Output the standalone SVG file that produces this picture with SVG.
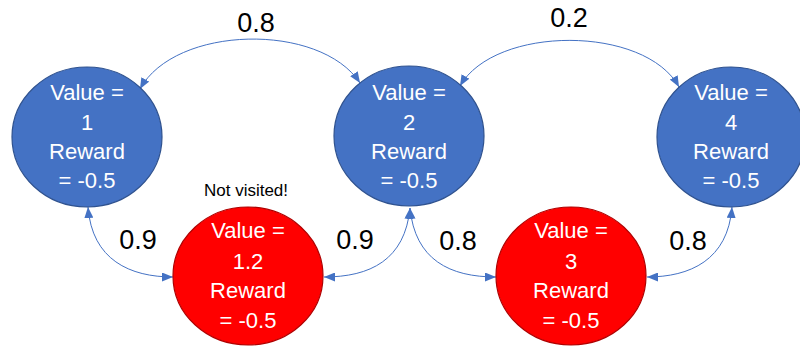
<svg xmlns="http://www.w3.org/2000/svg" width="800" height="347" viewBox="0 0 800 347">
  <style>
    .blue { fill: #4472C4; stroke: #2F528F; stroke-width: 1.2; }
    .red { fill: #FF0000; stroke: #B00000; stroke-width: 1.2; }
    .nt { font-family: "Liberation Sans", Arial, sans-serif; font-size: 22px; fill: #FFFFFF; text-anchor: middle; }
    .lbl { font-family: "Liberation Sans", Arial, sans-serif; font-size: 27px; fill: #000000; text-anchor: middle; }
    .note { font-family: "Liberation Sans", Arial, sans-serif; font-size: 17px; fill: #000000; text-anchor: middle; }
    .edge { fill: none; stroke: #4472C4; stroke-width: 1; marker-start: url(#arr); marker-end: url(#arr); }
  </style>
  <defs>
    <marker id="arr" markerUnits="userSpaceOnUse" markerWidth="11" markerHeight="9" refX="11" refY="4.5" orient="auto-start-reverse">
      <path d="M0,0 L11,4.5 L0,9 z" fill="#4472C4"/>
    </marker>
  </defs>

  <!-- transitions -->
  <g id="connectors">
    <path class="edge" d="M140,89 C175,25 320,22 360,83"/>
    <path class="edge" d="M460,86 C495,25 645,25 679,87"/>
    <path class="edge" d="M88,207 C92,260 130,277 173,277"/>
    <path class="edge" d="M410,208 C405,260 370,277 324,277"/>
    <path class="edge" d="M410,208 C415,260 450,277 496,277"/>
    <path class="edge" d="M732,207 C728,260 690,277 647,277"/>
    <text class="lbl" x="256" y="32">0.8</text>
    <text class="lbl" x="569" y="27">0.2</text>
    <text class="lbl" x="138" y="249">0.9</text>
    <text class="lbl" x="355" y="249">0.9</text>
    <text class="lbl" x="458" y="250">0.8</text>
    <text class="lbl" x="688" y="250">0.8</text>
  </g>

  <g id="state1">
    <ellipse class="blue" cx="87" cy="137" rx="75" ry="70"/>
    <text class="nt" x="87" y="100">Value =</text>
    <text class="nt" x="87" y="130">1</text>
    <text class="nt" x="87" y="159">Reward</text>
    <text class="nt" x="87" y="188">= -0.5</text>
  </g>

  <g id="state2">
    <ellipse class="blue" cx="409" cy="136" rx="75" ry="70"/>
    <text class="nt" x="409" y="100">Value =</text>
    <text class="nt" x="409" y="130">2</text>
    <text class="nt" x="409" y="159">Reward</text>
    <text class="nt" x="409" y="188">= -0.5</text>
  </g>

  <g id="state4">
    <ellipse class="blue" cx="731" cy="137" rx="74" ry="70"/>
    <text class="nt" x="731" y="100">Value =</text>
    <text class="nt" x="731" y="130">4</text>
    <text class="nt" x="731" y="159">Reward</text>
    <text class="nt" x="731" y="188">= -0.5</text>
  </g>

  <g id="state12">
    <ellipse class="red" cx="248" cy="276" rx="75" ry="69"/>
    <text class="nt" x="248" y="238">Value =</text>
    <text class="nt" x="248" y="269">1.2</text>
    <text class="nt" x="248" y="298">Reward</text>
    <text class="nt" x="248" y="328">= -0.5</text>
    <text class="note" x="246" y="196">Not visited!</text>
  </g>

  <g id="state3">
    <ellipse class="red" cx="571" cy="276" rx="75" ry="69"/>
    <text class="nt" x="571" y="238">Value =</text>
    <text class="nt" x="571" y="269">3</text>
    <text class="nt" x="571" y="298">Reward</text>
    <text class="nt" x="571" y="328">= -0.5</text>
  </g>
</svg>
